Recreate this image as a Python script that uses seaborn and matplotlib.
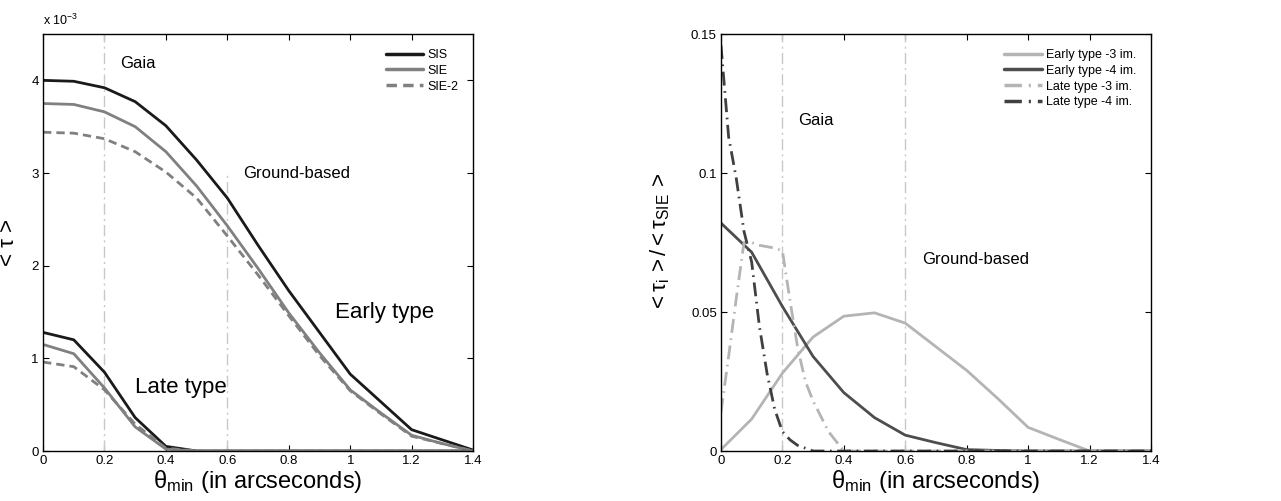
import matplotlib
matplotlib.use("Agg")
import matplotlib.pyplot as plt
import seaborn as sns
from matplotlib.ticker import FuncFormatter

# theta_min grid (arcsec)
theta = [0, 0.1, 0.2, 0.3, 0.4, 0.5, 0.6, 0.7, 0.8, 0.9, 1.0, 1.1, 1.2, 1.3, 1.4]

# left panel: <tau> in units of 1e-3
early_sis = [4.00, 3.99, 3.92, 3.77, 3.51, 3.14, 2.73, 2.22, 1.73, 1.28, 0.83, 0.53, 0.23, 0.12, 0.01]
early_sie = [3.75, 3.74, 3.66, 3.50, 3.23, 2.86, 2.43, 1.97, 1.49, 1.06, 0.66, 0.41, 0.17, 0.08, 0.0]
early_sie2 = [3.44, 3.43, 3.37, 3.23, 3.01, 2.73, 2.32, 1.90, 1.46, 1.03, 0.65, 0.40, 0.16, 0.08, 0.0]
late_sis = [1.28, 1.20, 0.85, 0.36, 0.05, 0.0, 0, 0, 0, 0, 0, 0, 0, 0, 0]
late_sie = [1.15, 1.05, 0.68, 0.26, 0.02, 0.0, 0, 0, 0, 0, 0, 0, 0, 0, 0]
late_sie2 = [0.96, 0.91, 0.66, 0.29, 0.03, 0.0, 0, 0, 0, 0, 0, 0, 0, 0, 0]

# right panel: <tau_i>/<tau_SIE>
early_3im = [0.0005, 0.0115, 0.028, 0.041, 0.0485, 0.0497, 0.046, 0.0375, 0.029, 0.019, 0.0085, 0.0042, 0.0, 0.0, 0.0]
early_4im = [0.082, 0.0715, 0.052, 0.034, 0.021, 0.012, 0.0057, 0.003, 0.0005, 0.0002, 0, 0, 0, 0, 0]
theta_late = [0, 0.025, 0.05, 0.075, 0.1, 0.125, 0.15, 0.175, 0.2, 0.225, 0.25, 0.275, 0.3, 0.35, 0.4,
              0.5, 0.6, 0.7, 0.8, 0.9, 1.0, 1.1, 1.2, 1.3, 1.4]
late_3im = [0.014, 0.034, 0.055, 0.075, 0.075, 0.074, 0.0735, 0.073, 0.072, 0.054, 0.037, 0.025, 0.018, 0.007, 0.0,
            0, 0, 0, 0, 0, 0, 0, 0, 0, 0]
late_4im = [0.146, 0.113, 0.098, 0.079, 0.068, 0.045, 0.028, 0.015, 0.007, 0.004, 0.002, 0.001, 0.0, 0, 0,
            0, 0, 0, 0, 0, 0, 0, 0, 0, 0]

limits = [0.2, 0.6]  # Gaia / ground-based resolution
xticks = [0, 0.2, 0.4, 0.6, 0.8, 1.0, 1.2, 1.4]

sns.set_style("ticks")
plt.rcParams['font.family'] = ['Liberation Sans', 'DejaVu Sans']
plt.rcParams['mathtext.fontset'] = 'custom'
plt.rcParams['mathtext.rm'] = 'Liberation Sans'
plt.rcParams['mathtext.it'] = 'Liberation Sans:italic'
plt.rcParams['mathtext.default'] = 'regular'
for k in ['text.color', 'axes.labelcolor', 'xtick.color', 'ytick.color', 'axes.edgecolor']:
    plt.rcParams[k] = 'black'

fig = plt.figure(figsize=(12.81, 5.01), dpi=100)
ax1 = fig.add_axes([0.0336, 0.0998, 0.3357, 0.8323])
ax2 = fig.add_axes([0.5628, 0.0998, 0.3357, 0.8323])

vcol = '#c8c8c8'
vls = (0, (8, 3, 1.5, 3))
fmt = FuncFormatter(lambda v, p: '%g' % round(v, 4))

# ---- left panel
ax1.axvline(limits[0], color=vcol, lw=1, ls=vls)
ax1.vlines(limits[1], 0, 3.0, color=vcol, lw=1, ls=vls)
lw = 2.0
sns.lineplot(x=theta, y=early_sis, ax=ax1, color='#1a1a1a', lw=lw, label='SIS')
sns.lineplot(x=theta, y=early_sie, ax=ax1, color='#808080', lw=lw, label='SIE')
sns.lineplot(x=theta, y=early_sie2, ax=ax1, color='#808080', lw=lw, ls=(0, (3, 1.8)), label='SIE-2')
sns.lineplot(x=theta, y=late_sis, ax=ax1, color='#1a1a1a', lw=lw, legend=False)
sns.lineplot(x=theta, y=late_sie, ax=ax1, color='#808080', lw=lw, legend=False)
sns.lineplot(x=theta, y=late_sie2, ax=ax1, color='#808080', lw=lw, ls=(0, (3, 1.8)), legend=False)

ax1.text(0.25, 4.18, 'Gaia', fontsize=12, va='center')
ax1.text(0.65, 3.0, 'Ground-based', fontsize=12, va='center')
ax1.text(0.95, 1.49, 'Early type', fontsize=16, va='center')
ax1.text(0.30, 0.69, 'Late type', fontsize=16, va='center')
ax1.text(0.0, 1.015, r'x 10$^{-3}$', transform=ax1.transAxes, fontsize=9, va='bottom')

ax1.set_xlim(0, 1.4)
ax1.set_ylim(0, 4.5)
ax1.set_yticks([0, 1, 2, 3, 4])
ax1.set_ylabel('< τ >', fontsize=16)
ax1.yaxis.set_label_coords(-0.055, 0.5)

# ---- right panel
ax2.axvline(limits[0], color=vcol, lw=1, ls=vls)
ax2.axvline(limits[1], color=vcol, lw=1, ls=vls)
sns.lineplot(x=theta, y=early_3im, ax=ax2, color='#b4b4b4', lw=lw, label='Early type -3 im.')
sns.lineplot(x=theta, y=early_4im, ax=ax2, color='#4d4d4d', lw=lw, label='Early type -4 im.')
sns.lineplot(x=theta_late, y=late_3im, ax=ax2, color='#b4b4b4', lw=lw, ls=(0, (5, 2, 0.6, 2)), label='Late type -3 im.')
sns.lineplot(x=theta_late, y=late_4im, ax=ax2, color='#404040', lw=lw, ls=(0, (5, 2, 0.6, 2)), label='Late type -4 im.')

ax2.text(0.25, 0.119, 'Gaia', fontsize=12, va='center')
ax2.text(0.655, 0.069, 'Ground-based', fontsize=12, va='center')

ax2.set_xlim(0, 1.4)
ax2.set_ylim(0, 0.15)
ax2.set_yticks([0, 0.05, 0.1, 0.15])
ax2.set_ylabel(r'${<}\tau_i\,{>}/{<}\tau_{SIE}\,{>}$', fontsize=16)
ax2.yaxis.set_label_coords(-0.114, 0.5)

for ax in (ax1, ax2):
    ax.set_xticks(xticks)
    ax.xaxis.set_major_formatter(fmt)
    ax.yaxis.set_major_formatter(fmt)
    ax.tick_params(direction='in', top=True, right=True, length=4.5, width=0.8, labelsize=9.5, pad=3)
    for s in ax.spines.values():
        s.set_linewidth(1.0)
        s.set_color('black')
    ax.set_xlabel(r'$\theta_{min}$ (in arcseconds)', fontsize=17)
    ax.xaxis.set_label_coords(0.5, -0.04)
    leg = ax.legend(loc='upper right', frameon=False, fontsize=9, handlelength=3, labelspacing=0.3,
                    borderaxespad=0.8, handletextpad=0.3)
    for h in leg.get_lines():
        h.set_linewidth(2.5)

fig.savefig('out.png', dpi=100)
